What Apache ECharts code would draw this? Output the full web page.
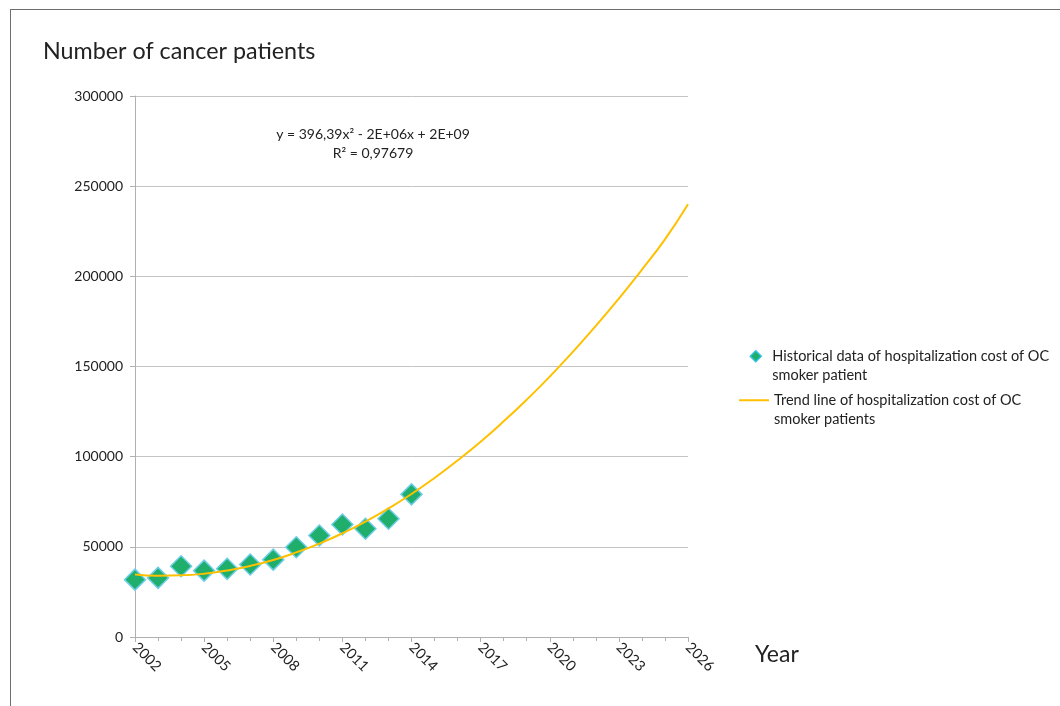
<!DOCTYPE html>
<html>
<head>
<meta charset="utf-8">
<script src="https://cdn.jsdelivr.net/npm/echarts@6/dist/echarts.min.js"></script>
<style>
html,body{margin:0;padding:0;background:#fff;}
#frame{position:absolute;left:10px;top:9px;width:1050px;height:697px;border-left:1.5px solid #6e6e6e;border-top:1.5px solid #6e6e6e;}
#chart{position:absolute;left:0;top:0;width:1060px;height:706px;}
</style>
</head>
<body>
<div id="frame"></div>
<div id="chart"></div>
<script>
const histYears = [2002,2003,2004,2005,2006,2007,2008,2009,2010,2011,2012,2013,2014];
const histValues = [31800,32800,39200,36800,37800,40200,42900,49800,56300,62400,60000,65600,79100];
const trendYears = [2002,2003,2004,2005,2006,2007,2008,2009,2010,2011,2012,2013,2014,2015,2016,2017,2018,2019,2020,2021,2022,2023,2024,2025,2026];
const trendValues = [34700,34000,34200,35100,36900,39400,42700,46900,51800,57500,64000,71300,79300,88200,97900,108300,119600,131600,144400,158100,172500,187700,203700,220500,240000];
const yTicks = [0,50000,100000,150000,200000,250000,300000];
const xTicks = [2002,2005,2008,2011,2014,2017,2020,2023,2026];

const histName = 'Historical data of hospitalization cost of OC smoker patient';
const trendName = 'Trend line of hospitalization cost of OC smoker patients';
const wrapped = {};
wrapped[histName] = '\nHistorical data of hospitalization cost of OC\nsmoker patient';
wrapped[trendName] = '\nTrend line of hospitalization cost of OC\nsmoker patients';

const FONT = 'Lato, "Noto Sans", sans-serif';
const chart = echarts.init(document.getElementById('chart'), null, {renderer:'canvas'});
chart.setOption({
  backgroundColor: 'transparent',
  animation: false,
  textStyle: {fontFamily: FONT},
  grid: {left: 135, right: 372, top: 96, bottom: 69, containLabel: false},
  title: {
    text: 'Number of cancer patients', left: 38, top: 35,
    textStyle: {fontFamily: FONT, fontSize: 23.3, fontWeight: 'normal', color: '#222'}
  },
  graphic: [
    {type: 'text', left: 755, top: 643, style: {text: 'Year', font: '23px ' + FONT, fill: '#222'}},
    {type: 'text', x: 373, y: 125, style: {text: 'y = 396,39x² - 2E+06x + 2E+09\nR² = 0,97679', font: '14px ' + FONT, fill: '#222', textAlign: 'center', lineHeight: 19}}
  ],
  legend: [
    {
      data: [{name: histName, icon: 'diamond', itemStyle: {color: '#1fae6b', borderColor: '#33c1e0', borderWidth: 1.5}}],
      orient: 'vertical', left: 749.5, top: 327, padding: 0, itemWidth: 11, itemHeight: 11,
      formatter: n => wrapped[n],
      textStyle: {fontFamily: FONT, fontSize: 14.5, color: '#222', lineHeight: 19.5, padding: [0,0,0,6]}
    },
    {
      data: [{name: trendName}],
      orient: 'vertical', left: 738, top: 371, padding: 0, itemWidth: 30, itemHeight: 2,
      formatter: n => wrapped[n],
      textStyle: {fontFamily: FONT, fontSize: 14.5, color: '#222', lineHeight: 19.5, padding: [0,0,0,0]}
    }
  ],
  xAxis: {
    type: 'value', min: 2002, max: 2026, interval: 3,
    axisLine: {show: true, lineStyle: {color: '#b0b0b0', width: 1}},
    axisTick: {show: true, length: 5, lineStyle: {color: '#b0b0b0'}},
    minorTick: {show: true, splitNumber: 3, length: 4, lineStyle: {color: '#b0b0b0'}},
    splitLine: {show: false},
    axisLabel: {rotate: -45, fontSize: 14.5, color: '#222', margin: 8, fontFamily: FONT,
      formatter: v => xTicks.includes(v) ? String(v) : ''}
  },
  yAxis: {
    type: 'value', min: 0, max: 300000, interval: 50000,
    axisLine: {show: true, lineStyle: {color: '#b0b0b0', width: 1}},
    axisTick: {show: true, length: 5, lineStyle: {color: '#b0b0b0'}},
    splitLine: {show: true, lineStyle: {color: '#c4c4c4', width: 1}},
    axisLabel: {fontSize: 14, color: '#222', margin: 12, fontFamily: FONT,
      formatter: v => yTicks.includes(v) ? String(v) : ''}
  },
  series: [
    {
      name: trendName, type: 'line', smooth: true, showSymbol: false, symbol: 'none',
      data: trendYears.map((y,i) => [y, trendValues[i]]),
      lineStyle: {color: '#ffc000', width: 2}, itemStyle: {color: '#ffc000'}, z: 3
    },
    {
      name: histName, type: 'scatter', symbol: 'diamond', symbolSize: 21,
      data: histYears.map((y,i) => [y, histValues[i]]),
      itemStyle: {color: '#1fae6b', borderColor: '#6ccde6', borderWidth: 1.5, opacity: 1}, z: 2
    }
  ]
});
</script>
</body>
</html>
